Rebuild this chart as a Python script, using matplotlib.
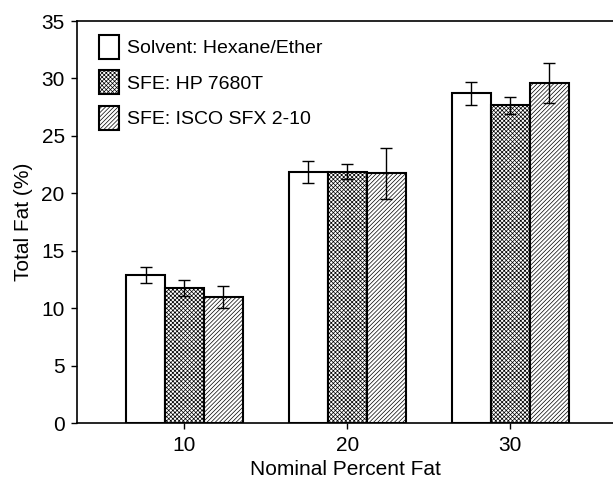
import numpy as np
import matplotlib.pyplot as plt

plt.rcParams['font.family'] = ['Liberation Sans', 'DejaVu Sans']
plt.rcParams['hatch.linewidth'] = 0.5

# nominal fat levels
nominal = [10, 20, 30]

# total fat (%) and error for each method
solvent = [12.9, 21.85, 28.7]
solvent_err = [0.73, 0.98, 1.03]
hp = [11.75, 21.9, 27.65]
hp_err = [0.70, 0.68, 0.78]
isco = [10.97, 21.76, 29.62]
isco_err = [0.96, 2.22, 1.74]

labels = ["Solvent: Hexane/Ether", "SFE: HP 7680T", "SFE: ISCO SFX 2-10"]

fig = plt.figure(figsize=(6.13, 4.83), dpi=100)
ax = fig.add_axes([0.126, 0.1236, 0.874, 0.8329])

x = np.array(nominal, dtype=float)
w = 2.39

err_kw = dict(ecolor='black', elinewidth=1.0, capsize=4.5, capthick=1.0)

ax.bar(x - w, solvent, w, yerr=solvent_err, color='white', edgecolor='black',
       linewidth=1.5, label=labels[0], error_kw=err_kw)
ax.bar(x, hp, w, yerr=hp_err, color='white', edgecolor='black', hatch='xxxxxxxx',
       linewidth=1.5, label=labels[1], error_kw=err_kw)
ax.bar(x + w, isco, w, yerr=isco_err, color='white', edgecolor='black', hatch='////////',
       linewidth=1.5, label=labels[2], error_kw=err_kw)

ax.set_xlim(3.42, 36.3)
ax.set_ylim(0, 35)
ax.set_xticks(nominal)
ax.set_yticks(np.arange(0, 36, 5))
ax.tick_params(direction='out', length=4, width=1, labelsize=15, pad=5)

ax.spines['right'].set_visible(False)
for s in ['left', 'bottom', 'top']:
    ax.spines[s].set_linewidth(1.2)

ax.set_xlabel("Nominal Percent Fat", fontsize=15, labelpad=4)
ax.set_ylabel("Total Fat (%)", fontsize=15, labelpad=6)

ax.legend(loc='upper left', bbox_to_anchor=(0.0405, 0.965), frameon=False,
          fontsize=14, borderpad=0, borderaxespad=0, handlelength=1.05,
          handleheight=1.5, labelspacing=0.6, handletextpad=0.4)

fig.savefig("out.png", dpi=100)
